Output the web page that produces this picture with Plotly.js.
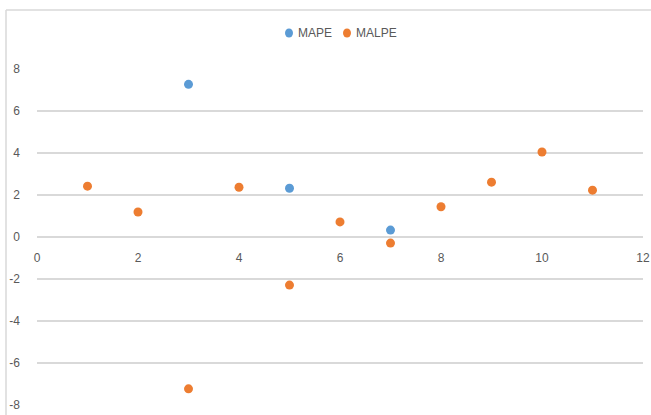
<!DOCTYPE html>
<html>
<head>
<meta charset="utf-8">
<script src="https://cdn.plot.ly/plotly-3.0.1.min.js"></script>
<style>html,body{margin:0;padding:0;background:#fff;}#chart{width:651px;height:415px;}</style>
</head>
<body>
<div id="chart"></div>
<script>
const seriesNames = ['MAPE', 'MALPE'];
const seriesColors = ['#5B9BD5', '#ED7D31'];
const mapeX = [3, 5, 7];
const mapeY = [7.27, 2.32, 0.33];
const malpeX = [1, 2, 3, 4, 5, 6, 7, 8, 9, 10, 11];
const malpeY = [2.42, 1.19, -7.23, 2.37, -2.29, 0.72, -0.29, 1.44, 2.61, 4.05, 2.23];
const xTicks = [0, 2, 4, 6, 8, 10, 12];
const yTicks = [-8, -6, -4, -2, 0, 2, 4, 6, 8];
const yTickText = ['-8', '-6', '-4', '-2', '0', '2', '4', '6', '8'];

const fontFam = '"Liberation Sans", Arial, sans-serif';
const gray = '#595959';

const traces = [
  {x: mapeX, y: mapeY, name: seriesNames[0], mode: 'markers', type: 'scatter',
   marker: {color: seriesColors[0], size: 9}},
  {x: malpeX, y: malpeY, name: seriesNames[1], mode: 'markers', type: 'scatter',
   marker: {color: seriesColors[1], size: 9}}
];

// pixel -> paper helpers for the legend/frame decoration
const L = 37, T = 69, PW = 606, PH = 336;
const px = v => (v - L) / PW;
const py = v => (T + PH - v) / PH;

const legendDotX = [289, 347];
const legendTextX = [296, 354];
const legendY = 33;

const shapes = [
  {type: 'line', xref: 'paper', yref: 'paper', x0: px(6), x1: 1.1, y0: py(10), y1: py(10),
   line: {color: '#d9d9d9', width: 1.5}},
  {type: 'line', xref: 'paper', yref: 'paper', x0: px(6), x1: px(6), y0: py(10), y1: -0.2,
   line: {color: '#d9d9d9', width: 1.5}}
];
const annotations = [];
seriesNames.forEach((n, i) => {
  shapes.push({type: 'circle', xref: 'paper', yref: 'paper', xsizemode: 'pixel', ysizemode: 'pixel',
    xanchor: px(legendDotX[i]), yanchor: py(legendY), x0: -4, x1: 4, y0: -4.5, y1: 4.5,
    fillcolor: seriesColors[i], line: {width: 0}});
  annotations.push({xref: 'paper', yref: 'paper', x: px(legendTextX[i]), y: py(legendY),
    xanchor: 'left', yanchor: 'middle', text: n, showarrow: false,
    font: {family: fontFam, size: 12, color: gray}});
});

const layout = {
  width: 651, height: 415,
  margin: {l: L, r: 8, t: T, b: 10, autoexpand: false},
  paper_bgcolor: '#fff', plot_bgcolor: '#fff',
  font: {family: fontFam, size: 12, color: gray},
  showlegend: false,
  xaxis: {range: [0, 12], tickvals: xTicks, showgrid: false, zeroline: false, automargin: false,
          showline: false, anchor: 'free', position: 0.5, ticks: '',
          ticklabelstandoff: 12, tickfont: {family: fontFam, size: 12, color: gray}},
  yaxis: {range: [-8, 8], tickvals: yTicks, ticktext: yTickText, showgrid: true, gridcolor: '#d9d9d9', automargin: false,
          gridwidth: 1.5, zeroline: true, zerolinecolor: '#d9d9d9', zerolinewidth: 1.5,
          showline: false, ticks: '', ticklabelstandoff: 16,
          tickfont: {family: fontFam, size: 12, color: gray}},
  shapes: shapes,
  annotations: annotations
};

Plotly.newPlot('chart', traces, layout, {displayModeBar: false, staticPlot: true});
</script>
</body>
</html>
